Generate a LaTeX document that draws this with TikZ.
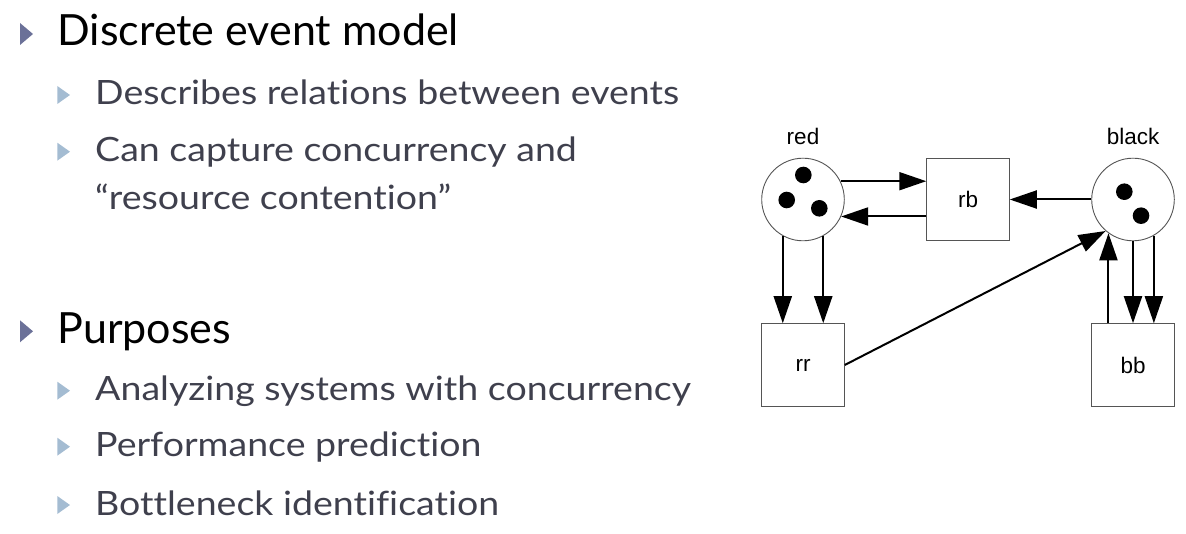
\documentclass[tikz,border=0pt]{standalone}
\usepackage{fontspec}
\setmainfont[Ligatures={NoCommon,NoRare}]{Lato}
\newfontfamily\subfont[FakeStretch=1.12,Ligatures={NoCommon,NoRare}]{Lato}
\newfontfamily\diagfont{Liberation Sans}
\usetikzlibrary{arrows.meta,calc}
\definecolor{headbullet}{HTML}{6B7198}
\definecolor{subbullet}{HTML}{A4BCD2}
\definecolor{subtext}{HTML}{3F404D}
\definecolor{outline}{HTML}{555555}
\begin{document}
\begin{tikzpicture}[x=1pt,y=-1pt,
  head/.style={anchor=base west, inner sep=0pt, text=black,
    font=\fontsize{43}{50}\selectfont},
  sub/.style={anchor=base west, inner sep=0pt, text=subtext,
    font=\subfont\fontsize{33.5}{48}\selectfont},
  place/.style={circle, draw=outline, line width=0.9pt, fill=white,
    minimum size=82.6pt, inner sep=0pt},
  transition/.style={rectangle, draw=outline, line width=0.9pt, fill=white,
    minimum size=82.6pt, inner sep=0pt, font=\diagfont\fontsize{22.5}{26}\selectfont},
  placelabel/.style={anchor=base, inner sep=0pt, font=\diagfont\fontsize{22.5}{26}\selectfont},
  token/.style={fill=black},
  arc/.style={line width=2pt, -{Triangle[length=27pt,width=18pt]}}
]
\useasboundingbox (0,0) rectangle (1186,534);

% ---------- bullet list ----------
\node[head] (h1) at (57.3,46) {Discrete event model};
\node[sub]  (s1) at (95,105) {Describes relations between events};
\node[sub]  (s2) at (95,161.7) {Can capture concurrency and};
\node[sub]  (s2b) at (95,210) {“resource contention”};
\node[head] (h2) at (57.3,343.3) {Purposes};
\node[sub]  (s3) at (95,400.7) {Analyzing systems with concurrency};
\node[sub]  (s4) at (95,456.7) {Performance prediction};
\node[sub]  (s5) at (95,515) {Bottleneck identification};

% triangular bullets in front of each item
\foreach \n in {h1,h2}
  \fill[headbullet] ($(\n.base west)+(-37.3,-1)$) -- ++(0,-22) -- ++(13,11) -- cycle;
\foreach \n in {s1,s2,s3,s4,s5}
  \fill[subbullet] ($(\n.base west)+(-37.7,-1)$) -- ++(0,-18) -- ++(12.7,9) -- cycle;

% ---------- Petri net ----------
\node[place] (red)   at (803,199.5)  {};
\node[place] (black) at (1133,199.5) {};
\node[transition] (rb) at (968,199.5) {rb};
\node[transition] (rr) at (803,365)   {rr};
\node[transition] (bb) at (1133,365)  {bb};

\node[placelabel] (redlbl)   at (803,145)  {red};
\node[placelabel] (blacklbl) at (1133,145) {black};

% tokens
\fill[token] ($(red.center)+(0.3,-24.5)$) circle[radius=8.3pt];
\fill[token] ($(red.center)+(-16.3,0.5)$) circle[radius=8.3pt];
\fill[token] ($(red.center)+(16.3,8.8)$)  circle[radius=8.3pt];
\fill[token] ($(black.center)+(-8.7,-7.8)$) circle[radius=8.3pt];
\fill[token] ($(black.center)+(8,16.2)$)    circle[radius=8.3pt];

% arcs
\draw[arc] (red.26.6) -- (red.26.6 -| rb.west);
\draw[arc] (red.-24.6 -| rb.west) -- (red.-24.6);
\draw[arc] (black.west) -- (rb.east);
\draw[arc] (red.-119) -- (red.-119 |- rr.north);
\draw[arc] (red.-61)  -- (red.-61 |- rr.north);
\draw[arc] (rr.east) -- (black.229);
\draw[arc] (black.-126.7 |- bb.north) -- (black.-126.7);
\draw[arc] (black.-90)  -- (black.-90 |- bb.north);
\draw[arc] (black.-60.6) -- (black.-60.6 |- bb.north);
\end{tikzpicture}
\end{document}
